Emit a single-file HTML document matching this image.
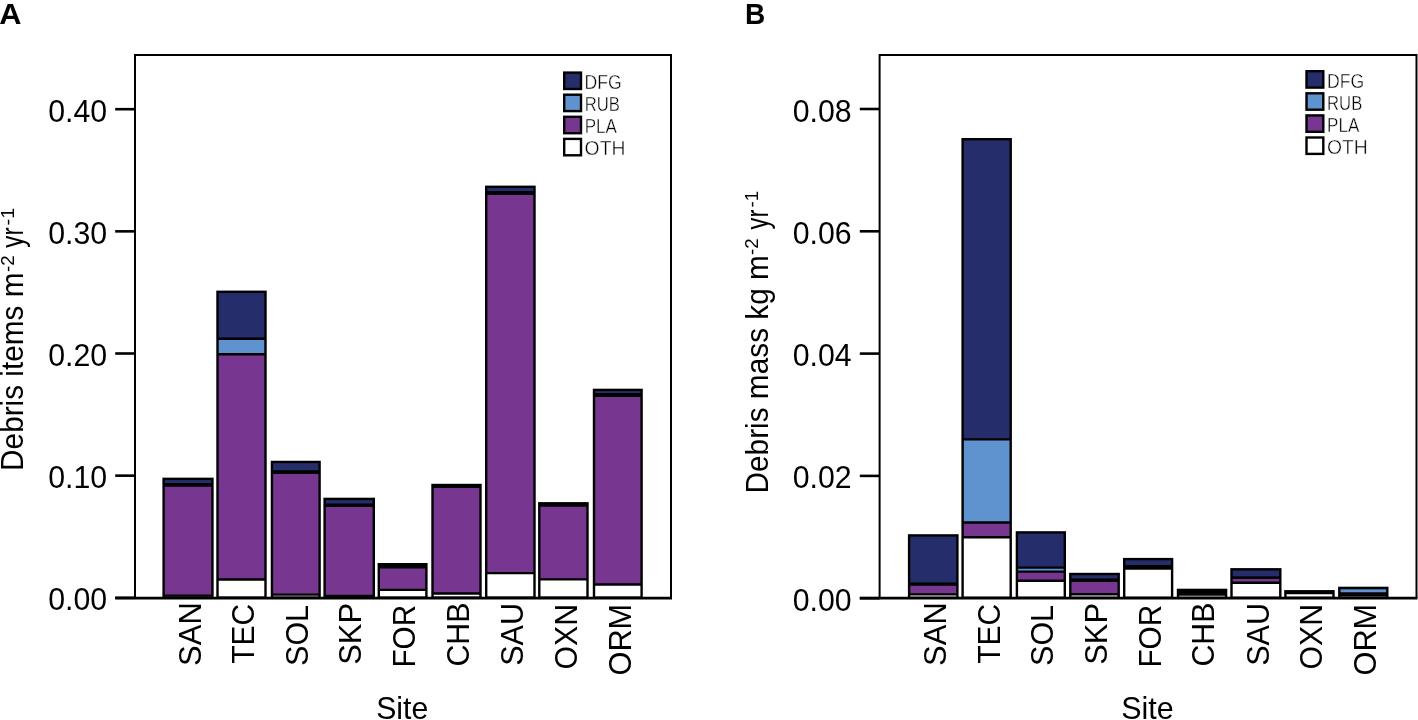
<!DOCTYPE html>
<html><head><meta charset="utf-8"><title>Debris chart</title>
<style>html,body{margin:0;padding:0;background:#fff;} svg{display:block;} text{font-family:"Liberation Sans", sans-serif;fill:#000;} svg{will-change:transform;}</style>
</head><body>
<svg width="1418" height="720" viewBox="0 0 1418 720">
<rect width="1418" height="720" fill="#fff"/>
<rect x="163.60" y="478.85" width="48.85" height="5.45" fill="#252d6b"/>
<rect x="163.60" y="484.30" width="48.85" height="1.30" fill="#5f93cf"/>
<rect x="163.60" y="485.60" width="48.85" height="110.00" fill="#77368f"/>
<rect x="163.60" y="595.60" width="48.85" height="2.00" fill="#ffffff"/>
<line x1="163.60" y1="484.30" x2="212.45" y2="484.30" stroke="#000" stroke-width="2.4"/>
<line x1="163.60" y1="485.60" x2="212.45" y2="485.60" stroke="#000" stroke-width="2.4"/>
<line x1="163.60" y1="595.60" x2="212.45" y2="595.60" stroke="#000" stroke-width="2.4"/>
<rect x="163.60" y="478.85" width="48.85" height="118.75" fill="none" stroke="#000" stroke-width="2.4"/>
<rect x="217.50" y="291.80" width="48.00" height="47.00" fill="#252d6b"/>
<rect x="217.50" y="338.80" width="48.00" height="15.50" fill="#5f93cf"/>
<rect x="217.50" y="354.30" width="48.00" height="225.20" fill="#77368f"/>
<rect x="217.50" y="579.50" width="48.00" height="18.10" fill="#ffffff"/>
<line x1="217.50" y1="338.80" x2="265.50" y2="338.80" stroke="#000" stroke-width="2.4"/>
<line x1="217.50" y1="354.30" x2="265.50" y2="354.30" stroke="#000" stroke-width="2.4"/>
<line x1="217.50" y1="579.50" x2="265.50" y2="579.50" stroke="#000" stroke-width="2.4"/>
<rect x="217.50" y="291.80" width="48.00" height="305.80" fill="none" stroke="#000" stroke-width="2.4"/>
<rect x="271.95" y="461.95" width="47.65" height="9.45" fill="#252d6b"/>
<rect x="271.95" y="471.40" width="47.65" height="1.40" fill="#5f93cf"/>
<rect x="271.95" y="472.80" width="47.65" height="121.80" fill="#77368f"/>
<rect x="271.95" y="594.60" width="47.65" height="3.00" fill="#ffffff"/>
<line x1="271.95" y1="471.40" x2="319.60" y2="471.40" stroke="#000" stroke-width="2.4"/>
<line x1="271.95" y1="472.80" x2="319.60" y2="472.80" stroke="#000" stroke-width="2.4"/>
<line x1="271.95" y1="594.60" x2="319.60" y2="594.60" stroke="#000" stroke-width="2.4"/>
<rect x="271.95" y="461.95" width="47.65" height="135.65" fill="none" stroke="#000" stroke-width="2.4"/>
<rect x="324.60" y="498.90" width="49.20" height="5.90" fill="#252d6b"/>
<rect x="324.60" y="504.80" width="49.20" height="1.00" fill="#5f93cf"/>
<rect x="324.60" y="505.80" width="49.20" height="90.20" fill="#77368f"/>
<rect x="324.60" y="596.00" width="49.20" height="1.60" fill="#ffffff"/>
<line x1="324.60" y1="504.80" x2="373.80" y2="504.80" stroke="#000" stroke-width="2.4"/>
<line x1="324.60" y1="505.80" x2="373.80" y2="505.80" stroke="#000" stroke-width="2.4"/>
<line x1="324.60" y1="596.00" x2="373.80" y2="596.00" stroke="#000" stroke-width="2.4"/>
<rect x="324.60" y="498.90" width="49.20" height="98.70" fill="none" stroke="#000" stroke-width="2.4"/>
<rect x="378.80" y="564.20" width="47.60" height="1.60" fill="#252d6b"/>
<rect x="378.80" y="565.80" width="47.60" height="1.50" fill="#5f93cf"/>
<rect x="378.80" y="567.30" width="47.60" height="22.60" fill="#77368f"/>
<rect x="378.80" y="589.90" width="47.60" height="7.70" fill="#ffffff"/>
<line x1="378.80" y1="565.80" x2="426.40" y2="565.80" stroke="#000" stroke-width="2.4"/>
<line x1="378.80" y1="567.30" x2="426.40" y2="567.30" stroke="#000" stroke-width="2.4"/>
<line x1="378.80" y1="589.90" x2="426.40" y2="589.90" stroke="#000" stroke-width="2.4"/>
<rect x="378.80" y="564.20" width="47.60" height="33.40" fill="none" stroke="#000" stroke-width="2.4"/>
<rect x="432.50" y="485.00" width="48.00" height="1.30" fill="#252d6b"/>
<rect x="432.50" y="486.30" width="48.00" height="0.60" fill="#5f93cf"/>
<rect x="432.50" y="486.90" width="48.00" height="106.60" fill="#77368f"/>
<rect x="432.50" y="593.50" width="48.00" height="4.10" fill="#ffffff"/>
<line x1="432.50" y1="486.30" x2="480.50" y2="486.30" stroke="#000" stroke-width="2.4"/>
<line x1="432.50" y1="486.90" x2="480.50" y2="486.90" stroke="#000" stroke-width="2.4"/>
<line x1="432.50" y1="593.50" x2="480.50" y2="593.50" stroke="#000" stroke-width="2.4"/>
<rect x="432.50" y="485.00" width="48.00" height="112.60" fill="none" stroke="#000" stroke-width="2.4"/>
<rect x="486.20" y="186.80" width="48.30" height="5.50" fill="#252d6b"/>
<rect x="486.20" y="192.30" width="48.30" height="1.40" fill="#5f93cf"/>
<rect x="486.20" y="193.70" width="48.30" height="379.40" fill="#77368f"/>
<rect x="486.20" y="573.10" width="48.30" height="24.50" fill="#ffffff"/>
<line x1="486.20" y1="192.30" x2="534.50" y2="192.30" stroke="#000" stroke-width="2.4"/>
<line x1="486.20" y1="193.70" x2="534.50" y2="193.70" stroke="#000" stroke-width="2.4"/>
<line x1="486.20" y1="573.10" x2="534.50" y2="573.10" stroke="#000" stroke-width="2.4"/>
<rect x="486.20" y="186.80" width="48.30" height="410.80" fill="none" stroke="#000" stroke-width="2.4"/>
<rect x="539.30" y="503.30" width="48.20" height="1.00" fill="#252d6b"/>
<rect x="539.30" y="504.30" width="48.20" height="1.30" fill="#5f93cf"/>
<rect x="539.30" y="505.60" width="48.20" height="73.80" fill="#77368f"/>
<rect x="539.30" y="579.40" width="48.20" height="18.20" fill="#ffffff"/>
<line x1="539.30" y1="504.30" x2="587.50" y2="504.30" stroke="#000" stroke-width="2.4"/>
<line x1="539.30" y1="505.60" x2="587.50" y2="505.60" stroke="#000" stroke-width="2.4"/>
<line x1="539.30" y1="579.40" x2="587.50" y2="579.40" stroke="#000" stroke-width="2.4"/>
<rect x="539.30" y="503.30" width="48.20" height="94.30" fill="none" stroke="#000" stroke-width="2.4"/>
<rect x="594.00" y="389.90" width="47.60" height="4.40" fill="#252d6b"/>
<rect x="594.00" y="394.30" width="47.60" height="1.40" fill="#5f93cf"/>
<rect x="594.00" y="395.70" width="47.60" height="188.80" fill="#77368f"/>
<rect x="594.00" y="584.50" width="47.60" height="13.10" fill="#ffffff"/>
<line x1="594.00" y1="394.30" x2="641.60" y2="394.30" stroke="#000" stroke-width="2.4"/>
<line x1="594.00" y1="395.70" x2="641.60" y2="395.70" stroke="#000" stroke-width="2.4"/>
<line x1="594.00" y1="584.50" x2="641.60" y2="584.50" stroke="#000" stroke-width="2.4"/>
<rect x="594.00" y="389.90" width="47.60" height="207.70" fill="none" stroke="#000" stroke-width="2.4"/>
<rect x="909.10" y="535.40" width="48.30" height="48.40" fill="#252d6b"/>
<rect x="909.10" y="583.80" width="48.30" height="0.80" fill="#5f93cf"/>
<rect x="909.10" y="584.60" width="48.30" height="9.80" fill="#77368f"/>
<rect x="909.10" y="594.40" width="48.30" height="3.40" fill="#ffffff"/>
<line x1="909.10" y1="583.80" x2="957.40" y2="583.80" stroke="#000" stroke-width="2.4"/>
<line x1="909.10" y1="584.60" x2="957.40" y2="584.60" stroke="#000" stroke-width="2.4"/>
<line x1="909.10" y1="594.40" x2="957.40" y2="594.40" stroke="#000" stroke-width="2.4"/>
<rect x="909.10" y="535.40" width="48.30" height="62.40" fill="none" stroke="#000" stroke-width="2.4"/>
<rect x="962.60" y="139.20" width="48.10" height="300.20" fill="#252d6b"/>
<rect x="962.60" y="439.40" width="48.10" height="83.10" fill="#5f93cf"/>
<rect x="962.60" y="522.50" width="48.10" height="14.70" fill="#77368f"/>
<rect x="962.60" y="537.20" width="48.10" height="60.60" fill="#ffffff"/>
<line x1="962.60" y1="439.40" x2="1010.70" y2="439.40" stroke="#000" stroke-width="2.4"/>
<line x1="962.60" y1="522.50" x2="1010.70" y2="522.50" stroke="#000" stroke-width="2.4"/>
<line x1="962.60" y1="537.20" x2="1010.70" y2="537.20" stroke="#000" stroke-width="2.4"/>
<rect x="962.60" y="139.20" width="48.10" height="458.60" fill="none" stroke="#000" stroke-width="2.4"/>
<rect x="1016.90" y="532.40" width="47.90" height="35.20" fill="#252d6b"/>
<rect x="1016.90" y="567.60" width="47.90" height="4.00" fill="#5f93cf"/>
<rect x="1016.90" y="571.60" width="47.90" height="9.20" fill="#77368f"/>
<rect x="1016.90" y="580.80" width="47.90" height="17.00" fill="#ffffff"/>
<line x1="1016.90" y1="567.60" x2="1064.80" y2="567.60" stroke="#000" stroke-width="2.4"/>
<line x1="1016.90" y1="571.60" x2="1064.80" y2="571.60" stroke="#000" stroke-width="2.4"/>
<line x1="1016.90" y1="580.80" x2="1064.80" y2="580.80" stroke="#000" stroke-width="2.4"/>
<rect x="1016.90" y="532.40" width="47.90" height="65.40" fill="none" stroke="#000" stroke-width="2.4"/>
<rect x="1070.30" y="574.00" width="48.40" height="5.80" fill="#252d6b"/>
<rect x="1070.30" y="579.80" width="48.40" height="1.00" fill="#5f93cf"/>
<rect x="1070.30" y="580.80" width="48.40" height="13.50" fill="#77368f"/>
<rect x="1070.30" y="594.30" width="48.40" height="3.50" fill="#ffffff"/>
<line x1="1070.30" y1="579.80" x2="1118.70" y2="579.80" stroke="#000" stroke-width="2.4"/>
<line x1="1070.30" y1="580.80" x2="1118.70" y2="580.80" stroke="#000" stroke-width="2.4"/>
<line x1="1070.30" y1="594.30" x2="1118.70" y2="594.30" stroke="#000" stroke-width="2.4"/>
<rect x="1070.30" y="574.00" width="48.40" height="23.80" fill="none" stroke="#000" stroke-width="2.4"/>
<rect x="1124.20" y="559.10" width="47.90" height="7.10" fill="#252d6b"/>
<rect x="1124.20" y="566.20" width="47.90" height="1.00" fill="#5f93cf"/>
<rect x="1124.20" y="567.20" width="47.90" height="1.30" fill="#77368f"/>
<rect x="1124.20" y="568.50" width="47.90" height="29.30" fill="#ffffff"/>
<line x1="1124.20" y1="566.20" x2="1172.10" y2="566.20" stroke="#000" stroke-width="2.4"/>
<line x1="1124.20" y1="567.20" x2="1172.10" y2="567.20" stroke="#000" stroke-width="2.4"/>
<line x1="1124.20" y1="568.50" x2="1172.10" y2="568.50" stroke="#000" stroke-width="2.4"/>
<rect x="1124.20" y="559.10" width="47.90" height="38.70" fill="none" stroke="#000" stroke-width="2.4"/>
<rect x="1178.00" y="589.90" width="48.10" height="1.60" fill="#252d6b"/>
<rect x="1178.00" y="591.50" width="48.10" height="1.00" fill="#5f93cf"/>
<rect x="1178.00" y="592.50" width="48.10" height="2.00" fill="#77368f"/>
<rect x="1178.00" y="594.50" width="48.10" height="3.30" fill="#ffffff"/>
<line x1="1178.00" y1="591.50" x2="1226.10" y2="591.50" stroke="#000" stroke-width="2.4"/>
<line x1="1178.00" y1="592.50" x2="1226.10" y2="592.50" stroke="#000" stroke-width="2.4"/>
<line x1="1178.00" y1="594.50" x2="1226.10" y2="594.50" stroke="#000" stroke-width="2.4"/>
<rect x="1178.00" y="589.90" width="48.10" height="7.90" fill="none" stroke="#000" stroke-width="2.4"/>
<rect x="1231.50" y="569.30" width="48.80" height="8.40" fill="#252d6b"/>
<rect x="1231.50" y="577.70" width="48.80" height="0.20" fill="#5f93cf"/>
<rect x="1231.50" y="577.90" width="48.80" height="4.80" fill="#77368f"/>
<rect x="1231.50" y="582.70" width="48.80" height="15.10" fill="#ffffff"/>
<line x1="1231.50" y1="577.70" x2="1280.30" y2="577.70" stroke="#000" stroke-width="2.4"/>
<line x1="1231.50" y1="577.90" x2="1280.30" y2="577.90" stroke="#000" stroke-width="2.4"/>
<line x1="1231.50" y1="582.70" x2="1280.30" y2="582.70" stroke="#000" stroke-width="2.4"/>
<rect x="1231.50" y="569.30" width="48.80" height="28.50" fill="none" stroke="#000" stroke-width="2.4"/>
<rect x="1285.40" y="591.30" width="48.10" height="0.70" fill="#252d6b"/>
<rect x="1285.40" y="592.00" width="48.10" height="0.50" fill="#5f93cf"/>
<rect x="1285.40" y="592.50" width="48.10" height="0.50" fill="#77368f"/>
<rect x="1285.40" y="593.00" width="48.10" height="4.80" fill="#ffffff"/>
<line x1="1285.40" y1="592.00" x2="1333.50" y2="592.00" stroke="#000" stroke-width="2.4"/>
<line x1="1285.40" y1="592.50" x2="1333.50" y2="592.50" stroke="#000" stroke-width="2.4"/>
<line x1="1285.40" y1="593.00" x2="1333.50" y2="593.00" stroke="#000" stroke-width="2.4"/>
<rect x="1285.40" y="591.30" width="48.10" height="6.50" fill="none" stroke="#000" stroke-width="2.4"/>
<rect x="1339.30" y="587.90" width="48.00" height="0.20" fill="#252d6b"/>
<rect x="1339.30" y="588.10" width="48.00" height="5.40" fill="#5f93cf"/>
<rect x="1339.30" y="593.50" width="48.00" height="1.90" fill="#77368f"/>
<rect x="1339.30" y="595.40" width="48.00" height="2.40" fill="#ffffff"/>
<line x1="1339.30" y1="588.10" x2="1387.30" y2="588.10" stroke="#000" stroke-width="2.4"/>
<line x1="1339.30" y1="593.50" x2="1387.30" y2="593.50" stroke="#000" stroke-width="2.4"/>
<line x1="1339.30" y1="595.40" x2="1387.30" y2="595.40" stroke="#000" stroke-width="2.4"/>
<rect x="1339.30" y="587.90" width="48.00" height="9.90" fill="none" stroke="#000" stroke-width="2.4"/>
<path d="M135.0,598.0 V55.0 H671.0 V598.0" fill="none" stroke="#000" stroke-width="2.0"/>
<line x1="115.2" y1="598.1" x2="672.0" y2="598.1" stroke="#000" stroke-width="2.6"/>
<line x1="115.2" y1="109.20" x2="135.0" y2="109.20" stroke="#000" stroke-width="2.6"/>
<line x1="115.2" y1="231.35" x2="135.0" y2="231.35" stroke="#000" stroke-width="2.6"/>
<line x1="115.2" y1="353.50" x2="135.0" y2="353.50" stroke="#000" stroke-width="2.6"/>
<line x1="115.2" y1="475.65" x2="135.0" y2="475.65" stroke="#000" stroke-width="2.6"/>
<line x1="115.2" y1="597.80" x2="135.0" y2="597.80" stroke="#000" stroke-width="2.6"/>
<path d="M879.6,598.0 V55.0 H1416.5 V598.0" fill="none" stroke="#000" stroke-width="2.0"/>
<line x1="859.8" y1="598.1" x2="1417.5" y2="598.1" stroke="#000" stroke-width="2.6"/>
<line x1="859.8" y1="109.00" x2="879.6" y2="109.00" stroke="#000" stroke-width="2.6"/>
<line x1="859.8" y1="231.30" x2="879.6" y2="231.30" stroke="#000" stroke-width="2.6"/>
<line x1="859.8" y1="353.60" x2="879.6" y2="353.60" stroke="#000" stroke-width="2.6"/>
<line x1="859.8" y1="475.90" x2="879.6" y2="475.90" stroke="#000" stroke-width="2.6"/>
<line x1="859.8" y1="598.20" x2="879.6" y2="598.20" stroke="#000" stroke-width="2.6"/>
<rect x="564.20" y="72.60" width="16.8" height="16.4" fill="#252d6b" stroke="#000" stroke-width="2.4"/>
<rect x="564.20" y="94.70" width="16.8" height="16.4" fill="#5f93cf" stroke="#000" stroke-width="2.4"/>
<rect x="564.20" y="116.80" width="16.8" height="16.4" fill="#77368f" stroke="#000" stroke-width="2.4"/>
<rect x="564.20" y="138.90" width="16.8" height="16.4" fill="#ffffff" stroke="#000" stroke-width="2.4"/>
<rect x="1306.50" y="71.20" width="16.8" height="16.4" fill="#252d6b" stroke="#000" stroke-width="2.4"/>
<rect x="1306.50" y="93.30" width="16.8" height="16.4" fill="#5f93cf" stroke="#000" stroke-width="2.4"/>
<rect x="1306.50" y="115.40" width="16.8" height="16.4" fill="#77368f" stroke="#000" stroke-width="2.4"/>
<rect x="1306.50" y="137.50" width="16.8" height="16.4" fill="#ffffff" stroke="#000" stroke-width="2.4"/>
<text transform="translate(-0.85,24.00) scale(1.0526,1)" font-size="29.2" font-weight="bold">A</text>
<text transform="translate(744.98,24.00) scale(0.9611,1)" font-size="29.2" font-weight="bold">B</text>
<text transform="translate(48.22,121.80) scale(0.9776,1)" font-size="31">0.40</text>
<text transform="translate(48.22,243.95) scale(0.9776,1)" font-size="31">0.30</text>
<text transform="translate(48.22,366.10) scale(0.9776,1)" font-size="31">0.20</text>
<text transform="translate(48.22,488.25) scale(0.9776,1)" font-size="31">0.10</text>
<text transform="translate(48.22,610.40) scale(0.9776,1)" font-size="31">0.00</text>
<text transform="translate(792.72,121.50) scale(0.9776,1)" font-size="31">0.08</text>
<text transform="translate(792.72,243.80) scale(0.9776,1)" font-size="31">0.06</text>
<text transform="translate(792.72,366.10) scale(0.9776,1)" font-size="31">0.04</text>
<text transform="translate(792.72,488.40) scale(0.9776,1)" font-size="31">0.02</text>
<text transform="translate(792.72,610.70) scale(0.9776,1)" font-size="31">0.00</text>
<text transform="translate(376.15,719.00) scale(0.9760,1)" font-size="31">Site</text>
<text transform="translate(1121.14,719.00) scale(0.9820,1)" font-size="31">Site</text>
<text transform="translate(23.30,470.88) rotate(-90) scale(0.9604,1)" font-size="31">Debris items m</text>
<text transform="translate(13.90,272.04) rotate(-90) scale(1.0429,1)" font-size="18">-2</text>
<text transform="translate(23.30,247.70) rotate(-90) scale(0.7800,1)" font-size="31">yr</text>
<text transform="translate(13.90,225.41) rotate(-90) scale(1.1071,1)" font-size="18">-1</text>
<text transform="translate(767.60,493.48) rotate(-90) scale(0.9613,1)" font-size="31">Debris mass kg m</text>
<text transform="translate(758.30,255.04) rotate(-90) scale(1.0357,1)" font-size="18">-2</text>
<text transform="translate(767.60,229.40) rotate(-90) scale(0.7640,1)" font-size="31">yr</text>
<text transform="translate(758.30,207.44) rotate(-90) scale(1.0429,1)" font-size="18">-1</text>
<text transform="translate(584.59,88.90) scale(0.9053,1)" font-size="19.5" stroke="#fff" stroke-width="0.4">DFG</text>
<text transform="translate(1326.99,87.50) scale(0.9053,1)" font-size="19.5" stroke="#fff" stroke-width="0.4">DFG</text>
<text transform="translate(584.69,111.00) scale(0.8553,1)" font-size="19.5" stroke="#fff" stroke-width="0.4">RUB</text>
<text transform="translate(1327.09,109.60) scale(0.8553,1)" font-size="19.5" stroke="#fff" stroke-width="0.4">RUB</text>
<text transform="translate(584.65,133.10) scale(0.8743,1)" font-size="19.5" stroke="#fff" stroke-width="0.4">PLA</text>
<text transform="translate(1327.05,131.70) scale(0.8743,1)" font-size="19.5" stroke="#fff" stroke-width="0.4">PLA</text>
<text transform="translate(584.61,155.20) scale(0.9923,1)" font-size="19.5" stroke="#fff" stroke-width="0.4">OTH</text>
<text transform="translate(1327.01,153.80) scale(0.9923,1)" font-size="19.5" stroke="#fff" stroke-width="0.4">OTH</text>
<text transform="translate(200.60,665.90) rotate(-90) scale(0.9983,1)" font-size="31">SAN</text>
<text transform="translate(945.80,665.90) rotate(-90) scale(0.9983,1)" font-size="31">SAN</text>
<text transform="translate(254.40,663.77) rotate(-90) scale(0.9683,1)" font-size="31">TEC</text>
<text transform="translate(999.60,663.77) rotate(-90) scale(0.9683,1)" font-size="31">TEC</text>
<text transform="translate(308.10,665.97) rotate(-90) scale(0.9847,1)" font-size="31">SOL</text>
<text transform="translate(1053.30,665.97) rotate(-90) scale(0.9847,1)" font-size="31">SOL</text>
<text transform="translate(361.40,664.69) rotate(-90) scale(0.9948,1)" font-size="31">SKP</text>
<text transform="translate(1106.60,664.69) rotate(-90) scale(0.9948,1)" font-size="31">SKP</text>
<text transform="translate(415.30,667.47) rotate(-90) scale(0.9557,1)" font-size="31">FOR</text>
<text transform="translate(1160.50,667.47) rotate(-90) scale(0.9557,1)" font-size="31">FOR</text>
<text transform="translate(469.20,666.56) rotate(-90) scale(0.9790,1)" font-size="31">CHB</text>
<text transform="translate(1214.40,666.56) rotate(-90) scale(0.9790,1)" font-size="31">CHB</text>
<text transform="translate(523.30,665.87) rotate(-90) scale(0.9864,1)" font-size="31">SAU</text>
<text transform="translate(1268.50,665.87) rotate(-90) scale(0.9864,1)" font-size="31">SAU</text>
<text transform="translate(576.60,669.55) rotate(-90) scale(0.9762,1)" font-size="31">OXN</text>
<text transform="translate(1321.80,669.55) rotate(-90) scale(0.9762,1)" font-size="31">OXN</text>
<text transform="translate(630.70,675.48) rotate(-90) scale(0.9912,1)" font-size="31">ORM</text>
<text transform="translate(1375.90,675.48) rotate(-90) scale(0.9912,1)" font-size="31">ORM</text>
</svg>
</body></html>
